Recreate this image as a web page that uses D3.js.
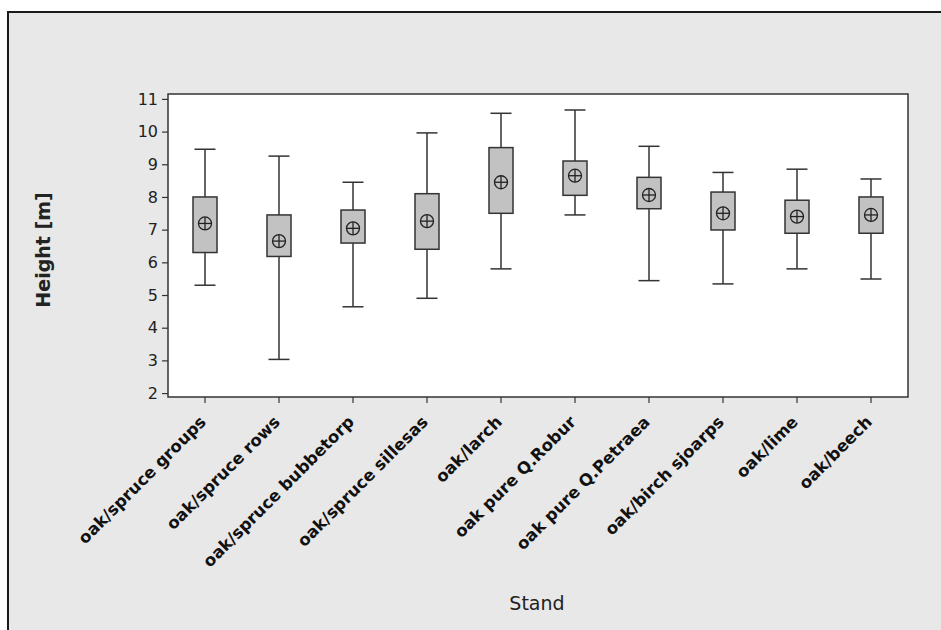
<!DOCTYPE html>
<html>
<head>
<meta charset="utf-8">
<script src="https://cdn.jsdelivr.net/npm/d3@7"></script>
<style>
  html, body { margin: 0; padding: 0; background: #fff; }
  svg { display: block; }
</style>
</head>
<body>
<svg id="chart" width="941" height="630"></svg>
<script>
// Tree height by stand type
const stands = [
  "oak/spruce groups", "oak/spruce rows", "oak/spruce bubbetorp", "oak/spruce sillesas",
  "oak/larch", "oak pure Q.Robur", "oak pure Q.Petraea", "oak/birch sjoarps",
  "oak/lime", "oak/beech"
];
const whiskerLow  = [5.30, 3.03, 4.64, 4.90, 5.80, 7.45, 5.44, 5.34, 5.80, 5.49];
const q1          = [6.30, 6.18, 6.59, 6.40, 7.50, 8.05, 7.64, 6.99, 6.89, 6.89];
const q3          = [8.00, 7.45, 7.60, 8.10, 9.51, 9.10, 8.60, 8.15, 7.90, 8.00];
const whiskerHigh = [9.46, 9.25, 8.45, 9.96, 10.56, 10.66, 9.55, 8.75, 8.85, 8.55];
const means       = [7.19, 6.65, 7.04, 7.26, 8.45, 8.65, 8.06, 7.50, 7.40, 7.45];
const yTicks = [2, 3, 4, 5, 6, 7, 8, 9, 10, 11];

const rows = stands.map((s, i) => ({
  stand: s, lo: whiskerLow[i], q1: q1[i], q3: q3[i], hi: whiskerHigh[i], mean: means[i]
}));

const svg = d3.select("#chart");
const W = 941, H = 630;
const plot = { left: 168, top: 94, right: 908, bottom: 397 };

// Outer panel
svg.append("rect")
  .attr("x", 8).attr("y", 12)
  .attr("width", W + 20).attr("height", H + 20)
  .attr("fill", "#e8e8e8")
  .attr("stroke", "#1a1a1a").attr("stroke-width", 2);

// Data region
svg.append("rect")
  .attr("x", plot.left).attr("y", plot.top)
  .attr("width", plot.right - plot.left).attr("height", plot.bottom - plot.top)
  .attr("fill", "#fff");

const x = d3.scaleBand().domain(stands).range([plot.left, plot.right]).padding(0);
const y = d3.scaleLinear().domain([1.88, 11.15]).range([plot.bottom, plot.top]);

const fontFam = "'DejaVu Sans', Verdana, sans-serif";

// Y axis
const yAxis = svg.append("g")
  .attr("transform", `translate(${plot.left},0)`)
  .call(d3.axisLeft(y).tickValues(yTicks).tickSize(6).tickPadding(4).tickFormat(d3.format("d")));
yAxis.select(".domain").remove();
yAxis.selectAll(".tick line").attr("stroke", "#333").attr("stroke-width", 1.2);
yAxis.selectAll(".tick text")
  .attr("font-family", fontFam).attr("font-size", 16).attr("fill", "#222");

// X axis with slanted stand names
const xAxis = svg.append("g")
  .attr("transform", `translate(0,${plot.bottom})`)
  .call(d3.axisBottom(x).tickSize(6).tickPadding(0));
xAxis.select(".domain").remove();
xAxis.selectAll(".tick line").attr("stroke", "#333").attr("stroke-width", 1.2);
xAxis.selectAll(".tick text")
  .attr("font-family", fontFam).attr("font-size", 16.5).attr("font-weight", "bold")
  .attr("fill", "#111")
  .attr("text-anchor", "end")
  .attr("x", 0).attr("y", 0).attr("dy", 0)
  .attr("transform", "translate(2,26) rotate(-45)");

// Plot frame
svg.append("rect")
  .attr("x", plot.left).attr("y", plot.top)
  .attr("width", plot.right - plot.left).attr("height", plot.bottom - plot.top)
  .attr("fill", "none").attr("stroke", "#333").attr("stroke-width", 1.5);

// Boxes
const boxW = 24, capW = 21;
const g = svg.append("g").selectAll("g").data(rows).join("g")
  .attr("transform", d => `translate(${x(d.stand) + x.bandwidth() / 2},0)`);

g.append("line")
  .attr("x1", 0).attr("x2", 0)
  .attr("y1", d => y(d.hi)).attr("y2", d => y(d.q3))
  .attr("stroke", "#333").attr("stroke-width", 1.5);
g.append("line")
  .attr("x1", 0).attr("x2", 0)
  .attr("y1", d => y(d.q1)).attr("y2", d => y(d.lo))
  .attr("stroke", "#333").attr("stroke-width", 1.5);
g.append("line")
  .attr("x1", -capW / 2).attr("x2", capW / 2)
  .attr("y1", d => y(d.hi)).attr("y2", d => y(d.hi))
  .attr("stroke", "#333").attr("stroke-width", 1.5);
g.append("line")
  .attr("x1", -capW / 2).attr("x2", capW / 2)
  .attr("y1", d => y(d.lo)).attr("y2", d => y(d.lo))
  .attr("stroke", "#333").attr("stroke-width", 1.5);
g.append("rect")
  .attr("x", -boxW / 2).attr("width", boxW)
  .attr("y", d => y(d.q3)).attr("height", d => y(d.q1) - y(d.q3))
  .attr("fill", "#c2c2c2").attr("stroke", "#333").attr("stroke-width", 1.5);

// Mean symbol: circle with cross
const r = 6.5;
g.append("circle")
  .attr("cx", 0).attr("cy", d => y(d.mean)).attr("r", r)
  .attr("fill", "none").attr("stroke", "#222").attr("stroke-width", 1.3);
g.append("line")
  .attr("x1", -r).attr("x2", r)
  .attr("y1", d => y(d.mean)).attr("y2", d => y(d.mean))
  .attr("stroke", "#222").attr("stroke-width", 1.3);
g.append("line")
  .attr("x1", 0).attr("x2", 0)
  .attr("y1", d => y(d.mean) - r).attr("y2", d => y(d.mean) + r)
  .attr("stroke", "#222").attr("stroke-width", 1.3);

// Axis titles
svg.append("text")
  .attr("transform", "translate(50,250) rotate(-90)")
  .attr("text-anchor", "middle")
  .attr("font-family", fontFam).attr("font-size", 19).attr("font-weight", "bold")
  .attr("fill", "#222")
  .text("Height [m]");
svg.append("text")
  .attr("x", 537).attr("y", 610)
  .attr("text-anchor", "middle")
  .attr("font-family", fontFam).attr("font-size", 19)
  .attr("fill", "#222")
  .text("Stand");
</script>
</body>
</html>
